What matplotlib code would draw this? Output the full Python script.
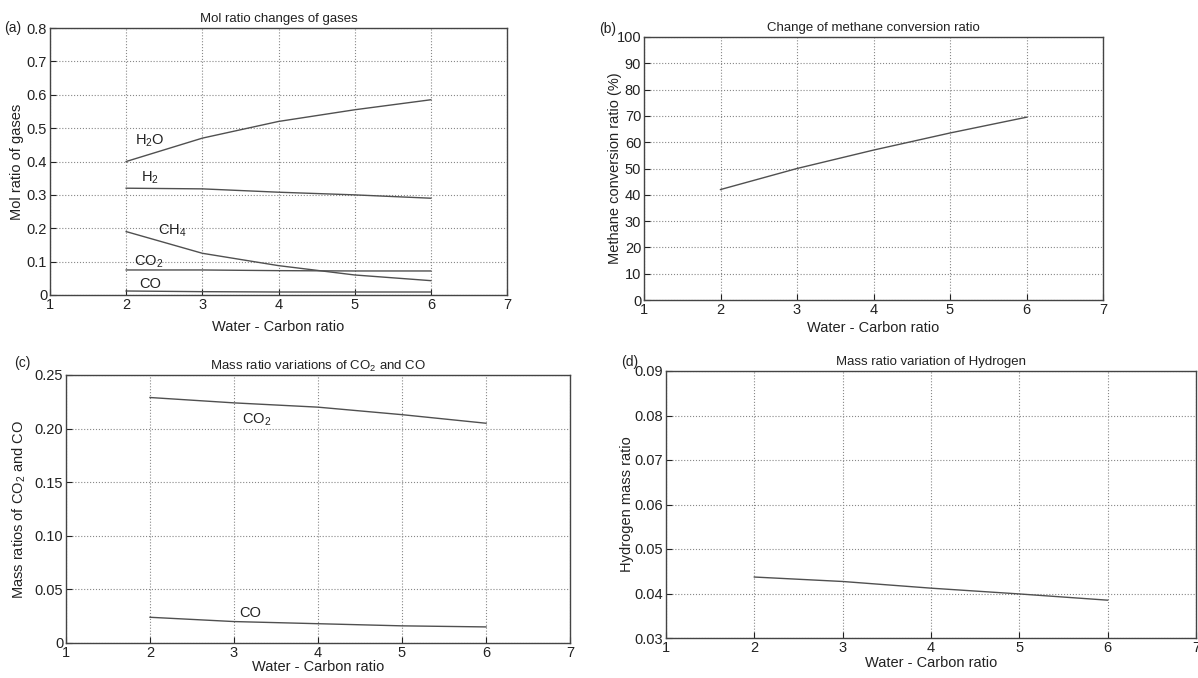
import matplotlib
matplotlib.use('Agg')
import matplotlib.pyplot as plt

plt.rcParams['font.family'] = ['Liberation Sans', 'DejaVu Sans']
plt.rcParams['mathtext.fontset'] = 'custom'
plt.rcParams['mathtext.rm'] = 'Liberation Sans'
plt.rcParams['mathtext.it'] = 'Liberation Sans'
plt.rcParams['mathtext.default'] = 'regular'

# Data
wc_ratio = [2, 3, 4, 5, 6]

mol_h2o = [0.400, 0.470, 0.520, 0.555, 0.585]
mol_h2 = [0.320, 0.318, 0.308, 0.300, 0.290]
mol_ch4 = [0.190, 0.125, 0.088, 0.060, 0.043]
mol_co2 = [0.075, 0.075, 0.073, 0.072, 0.072]
mol_co = [0.012, 0.010, 0.009, 0.009, 0.009]

methane_conv = [42.0, 50.0, 57.0, 63.5, 69.5]

mass_co2 = [0.229, 0.224, 0.220, 0.213, 0.205]
mass_co = [0.024, 0.020, 0.018, 0.016, 0.015]

mass_h2 = [0.0437, 0.0427, 0.0412, 0.0399, 0.0385]

W, H = 1198, 678
LINE = '#505050'
TXT = '#222222'


def px_axes(fig, left, top, right, bottom):
    return fig.add_axes([left / W, 1 - bottom / H, (right - left) / W, (bottom - top) / H])


def style(ax, ylim, yticks, yfmt, title, ylabel, tag, tag_xy, ylab_x, xpad):
    ax.set_xlim(1, 7)
    ax.set_xticks(range(1, 8))
    ax.set_ylim(*ylim)
    ax.set_yticks(yticks)
    ax.set_yticklabels([yfmt(v) for v in yticks])
    ax.grid(True, linestyle=':', color='#888888', linewidth=0.8)
    ax.tick_params(direction='in', labelsize=10.5, length=4, pad=2, colors=TXT)
    for s in ax.spines.values():
        s.set_color('#444444')
        s.set_linewidth(1.0)
    ax.set_title(title, fontsize=9.5, pad=4, color=TXT)
    ax.set_xlabel("Water - Carbon ratio", fontsize=10.5, labelpad=xpad, color=TXT)
    ax.set_ylabel(ylabel, fontsize=10.5, color=TXT)
    ax.yaxis.set_label_coords(ylab_x, 0.5)
    ax.text(tag_xy[0], tag_xy[1], tag, transform=ax.transAxes, fontsize=10,
            ha='left', va='center', color=TXT)


fig = plt.figure(figsize=(W / 100, H / 100), dpi=100)
kw = dict(fontsize=10.5, color=TXT)

# (a)
ax = px_axes(fig, 50, 28, 507, 295)
for y in [mol_h2o, mol_h2, mol_ch4, mol_co2, mol_co]:
    ax.plot(wc_ratio, y, color=LINE, linewidth=1.0)
style(ax, (0, 0.8), [0, 0.1, 0.2, 0.3, 0.4, 0.5, 0.6, 0.7, 0.8],
      lambda v: '0' if v == 0 else f'{v:.1f}',
      'Mol ratio changes of gases', 'Mol ratio of gases', '(a)',
      (-0.1, 1.0), -0.057, 6)
ax.text(2.12, 0.452, 'H$_2$O', **kw)
ax.text(2.2, 0.34, 'H$_2$', **kw)
ax.text(2.42, 0.18, 'CH$_4$', **kw)
ax.text(2.1, 0.088, 'CO$_2$', **kw)
ax.text(2.17, 0.022, 'CO', **kw)

# (b)
ax = px_axes(fig, 644, 37, 1103, 300)
ax.plot(wc_ratio, methane_conv, color=LINE, linewidth=1.0)
style(ax, (0, 100), list(range(0, 101, 10)), lambda v: f'{v:d}',
      'Change of methane conversion ratio', 'Methane conversion ratio (%)', '(b)',
      (-0.097, 1.03), -0.048, 3)

# (c)
ax = px_axes(fig, 66, 375, 570, 643)
ax.plot(wc_ratio, mass_co2, color=LINE, linewidth=1.0)
ax.plot(wc_ratio, mass_co, color=LINE, linewidth=1.0)
style(ax, (0, 0.25), [0, 0.05, 0.10, 0.15, 0.20, 0.25],
      lambda v: '0' if v == 0 else f'{v:.2f}',
      'Mass ratio variations of CO$_2$ and CO', 'Mass ratios of CO$_2$ and CO', '(c)',
      (-0.103, 1.045), -0.075, 0)
ax.text(3.1, 0.205, 'CO$_2$', **kw)
ax.text(3.06, 0.024, 'CO', **kw)

# (d)
ax = px_axes(fig, 666, 371, 1196, 638)
ax.plot(wc_ratio, mass_h2, color=LINE, linewidth=1.0)
style(ax, (0.03, 0.09), [0.03, 0.04, 0.05, 0.06, 0.07, 0.08, 0.09],
      lambda v: f'{v:.2f}',
      'Mass ratio variation of Hydrogen', 'Hydrogen mass ratio', '(d)',
      (-0.085, 1.035), -0.060, 1)

fig.savefig('out.png', dpi=100)
